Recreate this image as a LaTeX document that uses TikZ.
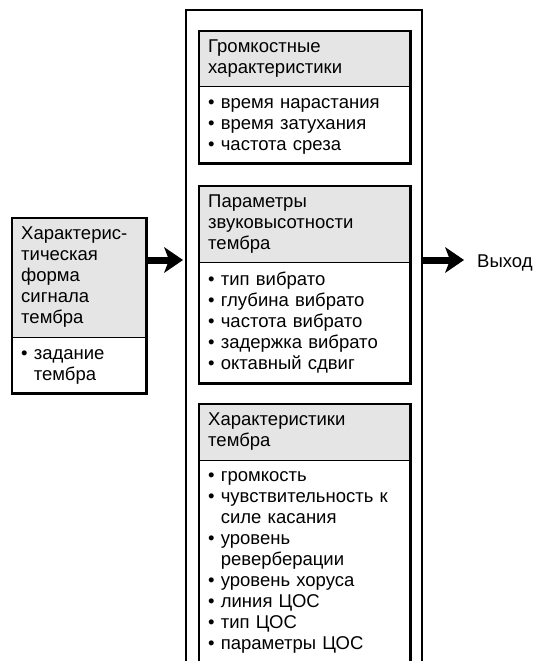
\documentclass[tikz,border=0pt]{standalone}
\usepackage{fontspec}
\setmainfont{Liberation Sans}
\usetikzlibrary{arrows.meta,positioning}
\definecolor{HeadGray}{RGB}{229,229,229}
\newcommand{\itm}{•\ }
\newcommand{\cnt}{\hphantom{•\ }}

\begin{document}
\begin{tikzpicture}[x=1pt,y=-1pt,
    font=\fontsize{18.5}{21}\selectfont,
    txt/.style={anchor=north west,align=left,inner xsep=9pt,inner ysep=0pt,
      execute at begin node=\strut,execute at end node=\strut},
    head/.style={txt,fill=HeadGray,minimum height=#1},
    body/.style={txt,minimum height=#1},
    frame/.style={line width=2.8pt},
    divider/.style={line width=1.8pt},
    bigarrow/.style={line width=7pt,
      -{Stealth[length=19pt,width=26pt,inset=5pt,line width=0pt]}}]
  \useasboundingbox (0,0) rectangle (541,661);

  \node[head=119pt,text width=116pt] (srchead) at (12,218)
    {Характерис-\\тическая\\форма\\сигнала\\тембра};
  \node[body=56pt,text width=116pt,below=0pt of srchead] (srcbody)
    {\itm задание\\\cnt тембра};
  \draw[divider] (srchead.south west) -- (srchead.south east);
  \draw[frame] (srchead.north west) rectangle (srcbody.south east);

  \draw[frame] (186,661) |- (422,10) -- (422,661);

  \node[head=55pt,text width=193pt] (loudhead) at (199,31)
    {Громкостные\\характеристики};
  \node[body=77pt,text width=193pt,below=0pt of loudhead] (loudbody)
    {\itm время нарастания\\\itm время затухания\\\itm частота среза};
  \draw[divider] (loudhead.south west) -- (loudhead.south east);
  \draw[frame] (loudhead.north west) rectangle (loudbody.south east);

  \node[head=76pt,text width=193pt] (pitchhead) at (199,186)
    {Параметры\\звуковысотности\\тембра};
  \node[body=121pt,text width=193pt,below=0pt of pitchhead] (pitchbody)
    {\itm тип вибрато\\\itm глубина вибрато\\\itm частота вибрато\\
     \itm задержка вибрато\\\itm октавный сдвиг};
  \draw[divider] (pitchhead.south west) -- (pitchhead.south east);
  \draw[frame] (pitchhead.north west) rectangle (pitchbody.south east);

  \node[head=56pt,text width=193pt] (tonehead) at (199,404)
    {Характеристики\\тембра};
  \node[body=201pt,text width=193pt,below=0pt of tonehead] (tonebody)
    {\itm громкость\\\itm чувствительность к\\\cnt силе касания\\
     \itm уровень\\\cnt реверберации\\\itm уровень хоруса\\
     \itm линия ЦОС\\\itm тип ЦОС\\\itm параметры ЦОС};
  \draw[divider] (tonehead.south west) -- (tonehead.south east);
  \draw[frame] (tonebody.south west) |- (tonehead.north east)
    -- (tonebody.south east);

  \coordinate (colin) at (183,260);
  \coordinate (colout) at (423,260);
  \node[anchor=base west,inner xsep=13pt] (out) at (464,267) {Выход};
  \draw[bigarrow] (srchead.east |- colin) -- (colin);
  \draw[bigarrow] (colout) -- (colout -| out.west);
\end{tikzpicture}
\end{document}
